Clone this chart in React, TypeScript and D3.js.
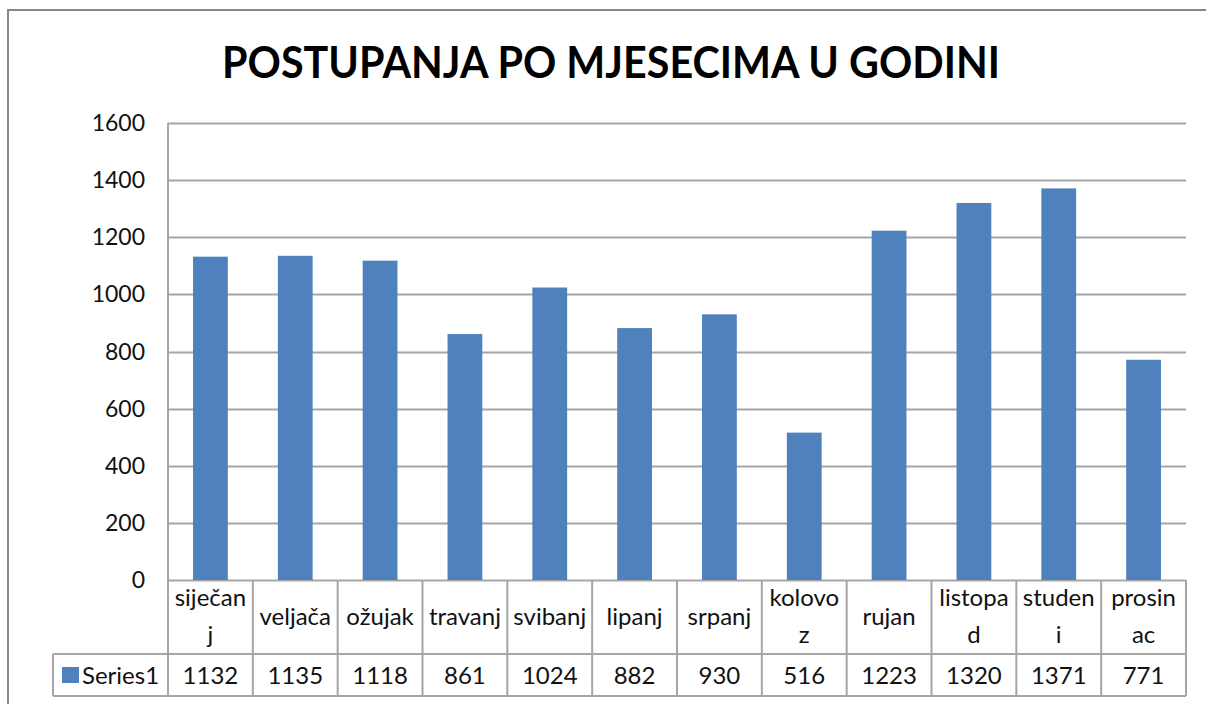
import React, { useEffect, useRef } from "react";
import * as d3 from "d3";

// data
const months = [
  "siječanj", "veljača", "ožujak", "travanj", "svibanj", "lipanj",
  "srpanj", "kolovoz", "rujan", "listopad", "studeni", "prosinac",
];
// how the labels wrap inside the table cells
const monthLines = [
  ["siječan", "j"], ["veljača"], ["ožujak"], ["travanj"], ["svibanj"], ["lipanj"],
  ["srpanj"], ["kolovo", "z"], ["rujan"], ["listopa", "d"], ["studen", "i"], ["prosin", "ac"],
];
const series1 = [1132, 1135, 1118, 861, 1024, 882, 930, 516, 1223, 1320, 1371, 771];
const yTicks = [0, 200, 400, 600, 800, 1000, 1200, 1400, 1600];
const seriesName = "Series1";
const title = "POSTUPANJA PO MJESECIMA U GODINI";

const FONT = "Lato, 'Open Sans', sans-serif";

function App() {
  const ref = useRef<SVGSVGElement>(null);

  useEffect(() => {
    const svg = d3.select(ref.current);
    svg.selectAll("*").remove();

    const plot = { left: 168, right: 1186, top: 123, bottom: 580 };
    const catRowBottom = 654;
    const tableBottom = 696;
    const legendLeft = 53;
    const gridColor = "#a6a6a6";
    const barColor = "#4f81bd";
    const textColor = "#111";

    // chart frame
    svg
      .append("rect")
      .attr("x", 8)
      .attr("y", 10)
      .attr("width", 1220)
      .attr("height", 720)
      .attr("fill", "#fff")
      .attr("stroke", "#868686")
      .attr("stroke-width", 2);

    // title
    svg
      .append("text")
      .attr("x", 611)
      .attr("y", 78)
      .attr("text-anchor", "middle")
      .attr("font-family", FONT)
      .attr("font-weight", "bold")
      .attr("font-size", 44)
      .attr("textLength", 778)
      .attr("lengthAdjust", "spacingAndGlyphs")
      .attr("fill", "#000")
      .text(title);

    const x = d3
      .scaleBand()
      .domain(months)
      .range([plot.left, plot.right])
      .paddingInner(0.59)
      .paddingOuter(0.295);

    const cell = d3
      .scaleBand()
      .domain(months)
      .range([plot.left, plot.right]);

    const y = d3.scaleLinear().domain([0, 1600]).range([plot.bottom, plot.top]);

    // gridlines
    svg
      .append("g")
      .selectAll("line")
      .data(yTicks)
      .join("line")
      .attr("x1", plot.left)
      .attr("x2", plot.right)
      .attr("y1", (d) => Math.round(y(d)) + 0.5)
      .attr("y2", (d) => Math.round(y(d)) + 0.5)
      .attr("stroke", gridColor)
      .attr("stroke-width", 2);

    // y labels
    svg
      .append("g")
      .selectAll("text")
      .data(yTicks)
      .join("text")
      .attr("x", 145)
      .attr("y", (d) => y(d) + 8)
      .attr("text-anchor", "end")
      .attr("font-family", FONT)
      .attr("font-size", 23)
      .attr("fill", textColor)
      .text((d) => d);

    // bars
    svg
      .append("g")
      .selectAll("rect")
      .data(series1)
      .join("rect")
      .attr("x", (d, i) => x(months[i]))
      .attr("y", (d) => y(d))
      .attr("width", x.bandwidth())
      .attr("height", (d) => plot.bottom - y(d))
      .attr("fill", barColor);

    // data table
    const table = svg.append("g").attr("stroke", gridColor).attr("stroke-width", 2);
    table
      .append("line")
      .attr("x1", plot.left).attr("x2", plot.left)
      .attr("y1", plot.top).attr("y2", tableBottom);
    table
      .selectAll("line.sep")
      .data(months)
      .join("line")
      .attr("class", "sep")
      .attr("x1", (d) => cell(d) + cell.bandwidth())
      .attr("x2", (d) => cell(d) + cell.bandwidth())
      .attr("y1", plot.bottom)
      .attr("y2", tableBottom);
    table
      .append("line")
      .attr("x1", legendLeft).attr("x2", plot.right)
      .attr("y1", catRowBottom).attr("y2", catRowBottom);
    table
      .append("line")
      .attr("x1", legendLeft).attr("x2", plot.right)
      .attr("y1", tableBottom).attr("y2", tableBottom);
    table
      .append("line")
      .attr("x1", legendLeft).attr("x2", legendLeft)
      .attr("y1", catRowBottom).attr("y2", tableBottom);

    // category labels
    const catG = svg
      .append("g")
      .attr("font-family", FONT)
      .attr("font-size", 24)
      .attr("fill", textColor)
      .attr("text-anchor", "middle");
    months.forEach((m, i) => {
      const lines = monthLines[i];
      const cx = cell(m) + cell.bandwidth() / 2;
      const startY = lines.length === 1 ? 625 : 606;
      lines.forEach((ln, j) => {
        catG
          .append("text")
          .attr("x", cx)
          .attr("y", startY + j * 37)
          .text(ln);
      });
    });

    // values row
    svg
      .append("g")
      .selectAll("text")
      .data(series1)
      .join("text")
      .attr("x", (d, i) => cell(months[i]) + cell.bandwidth() / 2)
      .attr("y", 684)
      .attr("text-anchor", "middle")
      .attr("font-family", FONT)
      .attr("font-size", 24)
      .attr("fill", textColor)
      .text((d) => d);

    // legend key
    svg
      .append("rect")
      .attr("x", 62)
      .attr("y", 667)
      .attr("width", 17)
      .attr("height", 16)
      .attr("fill", barColor);
    svg
      .append("text")
      .attr("x", 82)
      .attr("y", 684)
      .attr("font-family", FONT)
      .attr("font-size", 24)
      .attr("fill", textColor)
      .text(seriesName);
  }, []);

  return (
    <svg
      ref={ref}
      width={1206}
      height={704}
      style={{ position: "absolute", left: 0, top: 0, background: "#fff" }}
    />
  );
}

export default App;
